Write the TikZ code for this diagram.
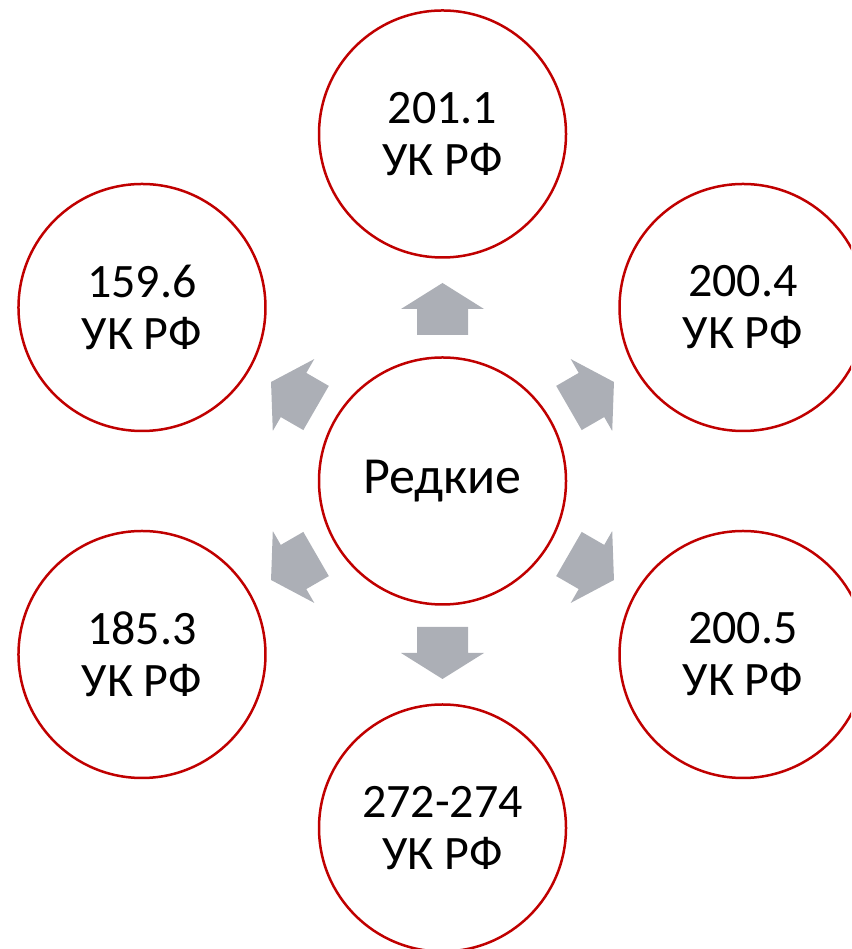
\documentclass[tikz,border=0pt]{standalone}
\usepackage{fontspec}
\setmainfont{Carlito}
\usetikzlibrary{calc}
\definecolor{ringred}{RGB}{192,0,0}
\definecolor{arrowgray}{RGB}{172,175,182}
\tikzset{
  ring/.style={circle, draw=ringred, line width=2.5pt, fill=white, minimum size=247pt, inner sep=0pt, align=center, font=\fontsize{48}{52}\selectfont},
  blockarrow/.style={fill=arrowgray, draw=none}
}
\begin{document}
\begin{tikzpicture}[x=1pt,y=1pt]
\useasboundingbox (0,0) rectangle (851,949);
\clip (0,0) rectangle (851,949);
\coordinate (C) at (442.5,468);
\node[ring, font=\fontsize{52}{56}\selectfont] (center) at (C) {Редкие};
\node[ring] (n90) at ($(C)+(90:347)$) {201.1\\УК РФ};
\node[ring] (n30) at ($(C)+(30:347)$) {200.4\\УК РФ};
\node[ring] (nm30) at ($(C)+(-30:347)$) {200.5\\УК РФ};
\node[ring] (nm90) at ($(C)+(-90:347)$) {272-274\\УК РФ};
\node[ring] (n210) at ($(C)+(210:347)$) {185.3\\УК РФ};
\node[ring] (n150) at ($(C)+(150:347)$) {159.6\\УК РФ};
\foreach \a in {90,30,-30,-90,210,150}{
  \fill[blockarrow, shift={(C)}, rotate=\a]
    (146,-25.5) -- (172,-25.5) -- (172,-41.5) -- (198,0) -- (172,41.5) -- (172,25.5) -- (146,25.5) -- cycle;
}
\end{tikzpicture}
\end{document}
